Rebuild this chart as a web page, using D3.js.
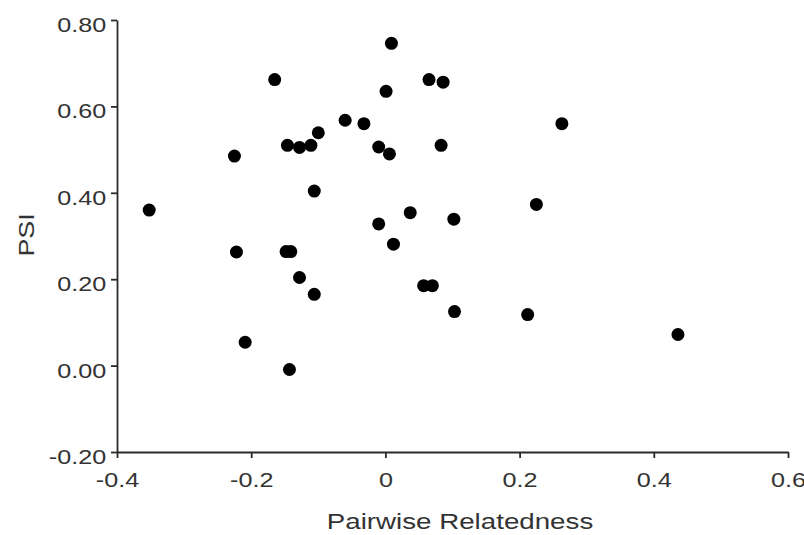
<!DOCTYPE html>
<html>
<head>
<meta charset="utf-8">
<script src="https://cdn.jsdelivr.net/npm/d3@7"></script>
<style>
  html, body { margin: 0; padding: 0; background: #fff; }
  svg { display: block; }
</style>
</head>
<body>
<svg id="chart" width="804" height="535"></svg>
<script>
// Pairwise relatedness (x) vs PSI (y)
const relatedness = [
  -0.352, -0.225, -0.222, -0.209, -0.165, -0.146, -0.128, -0.111, -0.100, -0.106,
  -0.148, -0.141, -0.128, -0.106, -0.143, -0.060, -0.032, 0.009, 0.001, -0.010,
  0.006, -0.010, 0.012, 0.065, 0.086, 0.263, 0.083, 0.225, 0.037, 0.102,
  0.057, 0.070, 0.103, 0.212, 0.436
];
const psi = [
  0.360, 0.485, 0.263, 0.054, 0.662, 0.510, 0.505, 0.510, 0.539, 0.404,
  0.264, 0.264, 0.204, 0.165, -0.009, 0.568, 0.560, 0.746, 0.635, 0.506,
  0.490, 0.328, 0.281, 0.662, 0.656, 0.560, 0.510, 0.373, 0.354, 0.339,
  0.185, 0.185, 0.125, 0.118, 0.072
];
const xTicks = [-0.4, -0.2, 0, 0.2, 0.4, 0.6];
const yTicks = [-0.2, 0, 0.2, 0.4, 0.6, 0.8];
const xTitle = "Pairwise Relatedness";
const yTitle = "PSI";

const svg = d3.select("#chart");
const x = d3.scaleLinear().domain([-0.4, 0.6]).range([117, 788]);
const y = d3.scaleLinear().domain([-0.2, 0.8]).range([452, 20]);

const axisColor = "#2a2a2a";
const textColor = "#333";
const font = "'Liberation Sans', Arial, Helvetica, sans-serif";

const fmtX = d => d === 0 ? "0" : d3.format(".1f")(d).replace("\u2212", "-");
const fmtY = d => d3.format(".2f")(d).replace("\u2212", "-");

// Y axis
const gy = svg.append("g")
  .attr("transform", `translate(${x(-0.4)},0)`)
  .call(d3.axisLeft(y).tickValues(yTicks).tickFormat(fmtY).tickSize(6).tickSizeOuter(0).tickPadding(3));
// X axis
const gx = svg.append("g")
  .attr("transform", `translate(0,${y(-0.2)})`)
  .call(d3.axisBottom(x).tickValues(xTicks).tickFormat(fmtX).tickSize(6).tickSizeOuter(0).tickPadding(14));

[gx, gy].forEach(g => {
  g.select(".domain").attr("stroke", axisColor).attr("stroke-width", 1.8);
  g.selectAll(".tick line").attr("stroke", axisColor).attr("stroke-width", 1.8);
  g.selectAll(".tick text")
    .attr("fill", textColor)
    .style("font-family", font)
    .style("font-size", "21px")
    .attr("transform", "scale(1.2,1)");
});
gy.selectAll(".tick text").attr("dy", "0.55em");

// Points
svg.append("g")
  .selectAll("circle")
  .data(relatedness.map((r, i) => [r, psi[i]]))
  .join("circle")
  .attr("cx", d => x(d[0]))
  .attr("cy", d => y(d[1]))
  .attr("r", 6.5)
  .attr("fill", "#000");

// Axis titles
svg.append("text")
  .attr("transform", "translate(460,529) scale(1.26,1)")
  .attr("text-anchor", "middle")
  .attr("fill", textColor)
  .style("font-family", font)
  .style("font-size", "22px")
  .text(xTitle);

svg.append("text")
  .attr("transform", "translate(34,235) rotate(-90) scale(1.22,1)")
  .attr("text-anchor", "middle")
  .attr("fill", textColor)
  .style("font-family", font)
  .style("font-size", "22px")
  .text(yTitle);
</script>
</body>
</html>
